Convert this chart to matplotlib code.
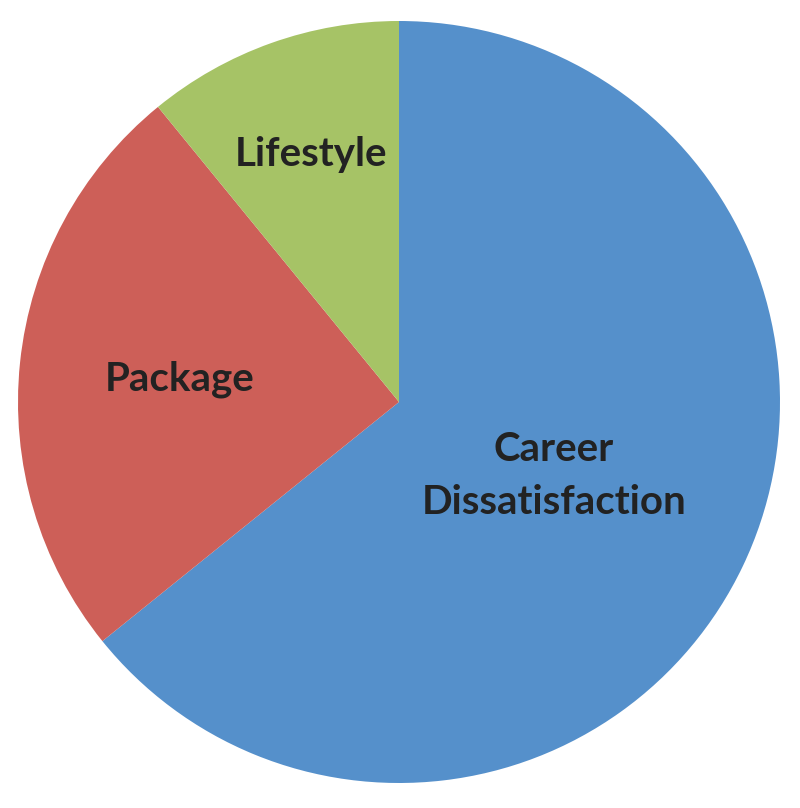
import numpy as np
import matplotlib
matplotlib.use("Agg")
import matplotlib.pyplot as plt

categories = ["Career\nDissatisfaction", "Package", "Lifestyle"]
values = [64.2, 24.9, 10.9]
colors = ["#5590CB", "#CD5F58", "#A6C366"]
label_dist = [0.45, 0.58, 0.69]

fig = plt.figure(figsize=(8, 8.08), dpi=100)
ax = fig.add_axes([0, 0, 1, 1])

cx, cy, R = 399, 406, 381
wedges, _ = ax.pie(values, colors=colors, startangle=90, counterclock=False,
                   center=(cx, cy), radius=R, frame=True)
ax.set_xlim(0, 800)
ax.set_ylim(0, 808)
ax.set_aspect("equal")
ax.axis("off")

for w, lab, d in zip(wedges, categories, label_dist):
    ang = np.deg2rad((w.theta1 + w.theta2) / 2)
    x = cx + d * R * np.cos(ang)
    y = cy + d * R * np.sin(ang)
    ax.text(x, y, lab, ha="center", va="center", fontsize=29,
            fontweight="bold", family="Lato", color="#222222", linespacing=1.55)

fig.savefig("out.png", dpi=100)
